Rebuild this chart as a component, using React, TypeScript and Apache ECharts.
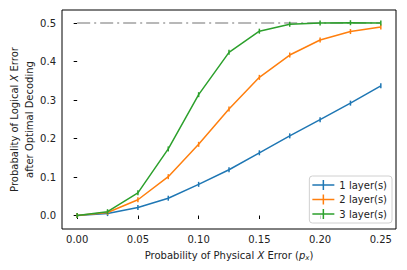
import React, { useEffect, useRef } from "react";
import * as echarts from "echarts";

const xValues = [0, 0.025, 0.05, 0.075, 0.1, 0.125, 0.15, 0.175, 0.2, 0.225, 0.25];
const layer1 = [0.0, 0.005, 0.021, 0.045, 0.081, 0.119, 0.163, 0.207, 0.249, 0.292, 0.337];
const layer2 = [0.0, 0.008, 0.041, 0.101, 0.185, 0.277, 0.359, 0.417, 0.456, 0.478, 0.49];
const layer3 = [0.0, 0.01, 0.059, 0.173, 0.314, 0.424, 0.479, 0.497, 0.5, 0.501, 0.5];
const seriesNames = ["1 layer(s)", "2 layer(s)", "3 layer(s)"];
const colors = ["#1f77b4", "#ff7f0e", "#2ca02c"];
const xTicks = [0, 0.05, 0.1, 0.15, 0.2, 0.25];
const yTicks = [0, 0.1, 0.2, 0.3, 0.4, 0.5];
const refLevel = 0.5;

const FONT = "DejaVu Sans";
const legendIcon = "path://M0,4.25h22v1.5H0z M10.25,0h1.5v10h-1.5z";

export default function App() {
  const ref = useRef<HTMLDivElement>(null);
  useEffect(() => {
    if (!ref.current) return;
    const chart = echarts.init(ref.current, null, { renderer: "svg" });
    const all = [layer1, layer2, layer3];
    const series: any[] = all.map((vals, i) => ({
      name: seriesNames[i],
      type: "line",
      data: xValues.map((x, j) => [x, vals[j]]),
      color: colors[i],
      lineStyle: { width: 1.5, color: colors[i] },
      symbol: "rect",
      symbolSize: [1.5, 5],
      itemStyle: { color: colors[i] },
      z: 3 + i,
    }));
    series.unshift({
      name: "ref",
      type: "line",
      data: [
        [xValues[0], refLevel],
        [xValues[xValues.length - 1], refLevel],
      ],
      symbol: "none",
      lineStyle: { color: "#b8b8b8", width: 2, type: [13, 4, 2, 4] },
      z: 2,
    });
    chart.setOption({
      animation: false,
      textStyle: { fontFamily: FONT },
      grid: {
        left: 62,
        right: 11,
        top: 10,
        bottom: 41,
        containLabel: false,
        outerBoundsMode: "none",
        show: true,
        borderColor: "#000",
        borderWidth: 1,
        backgroundColor: "transparent",
      },
      legend: {
        data: seriesNames.map((n, i) => ({ name: n, icon: legendIcon, itemStyle: { color: colors[i] } })),
        orient: "vertical",
        right: 15,
        bottom: 47,
        itemWidth: 22,
        itemHeight: 10,
        itemGap: 4.5,
        padding: [4, 5, 4, 3],
        borderColor: "#d0d0d0",
        borderWidth: 1,
        borderRadius: 3,
        backgroundColor: "rgba(255,255,255,0.8)",
        textStyle: { fontFamily: FONT, fontSize: 10, color: "#222" },
      },
      xAxis: {
        type: "value",
        min: -0.0125,
        max: 0.2625,
        axisLine: { show: false },
        splitLine: { show: false },
        axisTick: { show: true, length: 3.5, inside: false, lineStyle: { color: "#000" }, customValues: xTicks },
        axisLabel: {
          customValues: xTicks,
          formatter: (v: number) => v.toFixed(2),
          fontSize: 10,
          color: "#222",
          fontFamily: FONT,
          margin: 5,
        },
        name: "Probability of Physical {i|X} Error ({i|p}{sub|x})",
        nameLocation: "middle",
        nameGap: 20,
        nameMoveOverlap: false,
        nameTextStyle: {
          fontSize: 10,
          color: "#222",
          fontFamily: FONT,
          rich: {
            i: { fontStyle: "italic", fontSize: 10, color: "#222", fontFamily: FONT },
            sub: { fontStyle: "italic", fontSize: 7, color: "#222", fontFamily: FONT, padding: [5, 0, 0, 0] },
          },
        },
      },
      yAxis: {
        type: "value",
        min: -0.035,
        max: 0.534,
        axisLine: { show: false },
        splitLine: { show: false },
        axisTick: { show: true, length: 3.5, inside: false, lineStyle: { color: "#000" }, customValues: yTicks },
        axisLabel: {
          customValues: yTicks,
          formatter: (v: number) => v.toFixed(1),
          fontSize: 10,
          color: "#222",
          fontFamily: FONT,
          margin: 6,
        },
        name: "Probabality of Logical {i|X} Error\nafter Optimal Decoding",
        nameLocation: "middle",
        nameGap: 25,
        nameMoveOverlap: false,
        nameTextStyle: {
          fontSize: 10,
          color: "#222",
          fontFamily: FONT,
          lineHeight: 15,
          rich: {
            i: { fontStyle: "italic", fontSize: 10, color: "#222", fontFamily: FONT, lineHeight: 15 },
          },
        },
      },
      series,
    });
    return () => chart.dispose();
  }, []);
  return <div ref={ref} style={{ width: 407, height: 270, position: "absolute", left: 0, top: 0, background: "#fff" }} />;
}
